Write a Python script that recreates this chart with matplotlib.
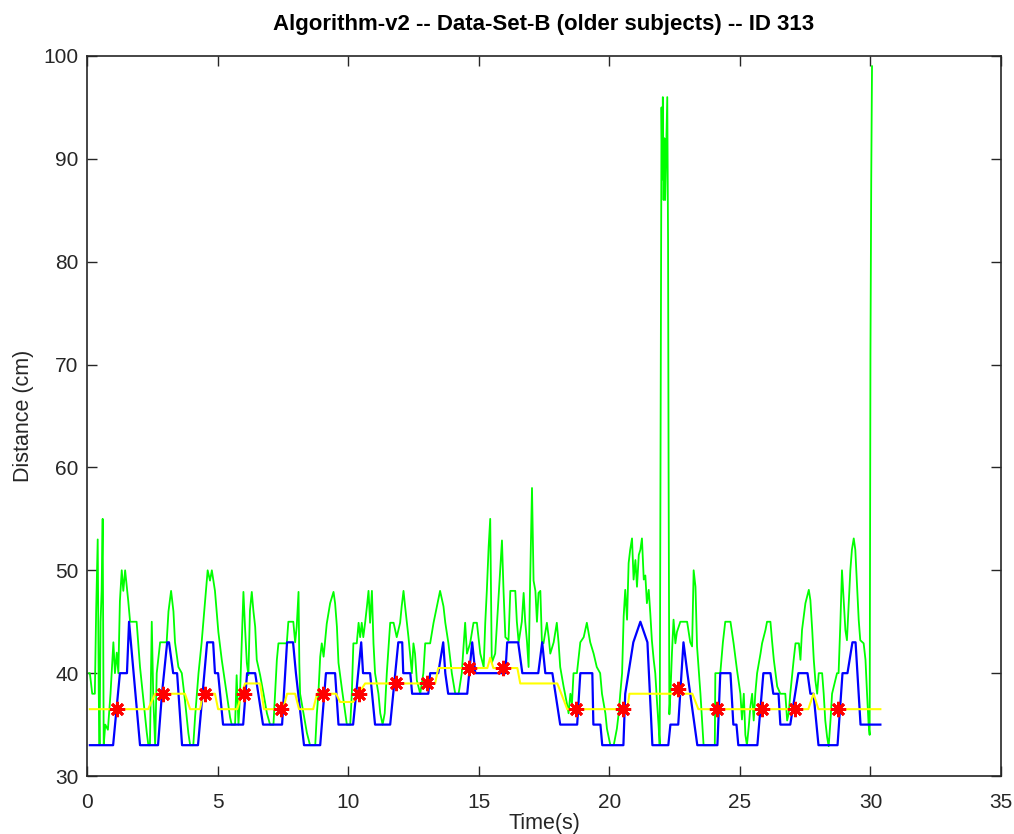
import numpy as np
import matplotlib
matplotlib.use("Agg")
import matplotlib.pyplot as plt

# green: raw distance trace
green_t = [0.08, 0.11, 0.2, 0.3, 0.35, 0.41, 0.45, 0.48, 0.52, 0.56, 0.6, 0.64, 0.7, 0.8, 0.9,
           1.01, 1.07, 1.14, 1.2, 1.26, 1.33, 1.39, 1.46, 1.52, 1.58, 1.65, 1.9, 2.03, 2.16, 2.29,
           2.35, 2.41, 2.48, 2.54, 2.61, 2.67, 2.8, 3.05, 3.12, 3.22, 3.31, 3.37, 3.5, 3.63, 3.75,
           3.88, 3.95, 4.07, 4.14, 4.27, 4.39, 4.52, 4.62, 4.71, 4.78, 4.9, 5.03,
           5.16, 5.35, 5.48, 5.54, 5.67, 5.73, 5.80, 5.86, 5.99, 6.05, 6.12, 6.18, 6.24, 6.31,
           6.37, 6.44, 6.50, 6.63, 6.76, 6.89, 7.01, 7.14, 7.20, 7.27, 7.33, 7.65, 7.71, 7.90,
           7.97, 8.03, 8.10, 8.13, 8.16, 8.29, 8.42, 8.54, 8.74, 8.80, 8.86, 8.93, 8.99, 9.06,
           9.18, 9.31, 9.44, 9.50, 9.57, 9.63, 9.76, 9.89, 9.95, 10.08, 10.14, 10.20, 10.33,
           10.40, 10.46, 10.52, 10.58, 10.65, 10.72, 10.78, 10.84, 10.91, 10.97, 11.03, 11.16,
           11.23, 11.32, 11.40, 11.48, 11.61, 11.74, 11.86, 11.99, 12.05, 12.12, 12.18, 12.25,
           12.31, 12.37, 12.44, 12.50, 12.56, 12.63, 12.76, 12.88, 12.95, 13.14, 13.27, 13.40,
           13.52, 13.65, 13.72, 13.84, 13.97, 14.10, 14.23, 14.35, 14.48, 14.55, 14.67, 14.80,
           14.93, 15.06, 15.19, 15.25, 15.31, 15.38, 15.44, 15.50, 15.63, 15.70, 15.82, 15.89,
           15.95, 16.02, 16.14, 16.21, 16.40, 16.46, 16.53, 16.65, 16.72, 16.78, 16.85, 16.91,
           16.97, 17.04, 17.10, 17.17, 17.23, 17.29, 17.36, 17.42, 17.48, 17.61, 17.68, 17.74,
           17.87, 17.99, 18.06, 18.12, 18.25, 18.38, 18.44, 18.51, 18.57, 18.63, 18.76, 18.89,
           19.02, 19.14, 19.27, 19.40, 19.52, 19.65, 19.72, 19.85, 19.91, 20.04, 20.17, 20.29,
           20.36, 20.42, 20.49, 20.55, 20.61, 20.68, 20.74, 20.80, 20.87, 20.93, 21.00, 21.06,
           21.13, 21.19, 21.25, 21.32, 21.38, 21.44, 21.51, 21.57, 21.63, 21.70, 21.76, 21.83,
           21.89, 21.93, 21.97, 22.00, 22.03, 22.05, 22.08, 22.11, 22.14, 22.18, 22.22, 22.25,
           22.27, 22.30, 22.34, 22.40, 22.46, 22.53, 22.59, 22.72, 22.98, 23.10, 23.17, 23.23,
           23.30, 23.36, 23.49, 23.55, 23.61, 23.99, 24.04, 24.06, 24.25, 24.35, 24.44, 24.64,
           24.76, 24.89, 25.02, 25.08, 25.15, 25.21, 25.27, 25.34, 25.40, 25.47, 25.53, 25.59,
           25.66, 25.79, 25.85, 25.98, 26.04, 26.17, 26.23, 26.30, 26.43, 26.55, 26.74, 26.81,
           26.87, 26.93, 27.06, 27.13, 27.26, 27.32, 27.38, 27.51, 27.64, 27.70, 27.77, 27.83,
           27.89, 27.96, 28.02, 28.15, 28.21, 28.27, 28.34, 28.40, 28.47, 28.53, 28.72, 28.78,
           28.85, 28.91, 28.98, 29.04, 29.10, 29.17, 29.23, 29.29, 29.36, 29.42, 29.49, 29.55,
           29.61, 29.74, 29.81, 29.87, 29.93, 29.97, 30.00, 30.03, 30.06]
green_v = [40, 40, 38, 38, 46, 53, 38, 33, 45, 48, 55, 33, 35, 34.5, 38,
           43, 40, 42, 40, 47, 50, 48, 50, 48.5, 47, 45, 45, 40.6, 37.4, 34.2,
           33, 33, 45, 37.4, 33, 40, 43, 43, 46, 48, 46, 43, 40.6, 40, 37.4,
           34.2, 33, 33, 35.8, 40, 43, 47, 50, 49, 50, 48, 44,
           41.3, 38, 35.7, 35, 35, 39.8, 35, 38, 47.9, 44.5, 41, 39.8, 46.1, 47.9,
           46.1, 44.5, 41.3, 39.8, 38, 36.1, 35, 35, 38, 41.3, 42.9, 42.9, 45, 45,
           43, 44.5, 47.9, 41, 38, 36.1, 34.2, 33, 33, 36, 38, 41.6, 42.9, 41.6,
           44.8, 46.8, 47.9, 46.8, 44.5, 41, 38.5, 36.1, 35, 35, 38, 42.9, 42.9,
           44.9, 43.5, 44.9, 43.5, 44.9, 46.5, 48, 44.9, 48, 42.9, 40, 38,
           36.1, 35, 36.1, 40, 44.9, 44.9, 43.5, 44.9, 46.5, 48, 46.5, 44.9,
           43.5, 41.9, 40, 42.9, 41.9, 39.3, 38, 40, 42.9, 42.9, 44.9, 46.5,
           48, 46.5, 44.9, 42.9, 40, 38, 38, 40, 44.9, 41.9, 42.9, 44.9,
           44.9, 41.9, 40.6, 44.9, 48, 52.3, 55, 41, 41.9, 44.9, 50, 52.9,
           48, 43.5, 43.2, 48, 48, 45, 43, 45, 47.8, 45, 43, 40.6,
           49, 58, 49, 48, 45, 47.8, 48, 43, 42.9, 44.9, 43.5, 41.9,
           43, 44.9, 42.9, 40.6, 38.7, 37, 36.1, 38, 37, 40, 40, 43,
           43.5, 44.9, 43, 41.9, 40.6, 40, 38, 36.1, 34.6, 33, 33, 34.6,
           36.1, 38, 40, 45.5, 48.1, 45.2, 50.7, 52, 53.1, 49.1, 51, 48.4,
           51.5, 52, 53.1, 49.1, 49.5, 46.8, 48.1, 45.8, 43.2, 41.3, 40, 37.1,
           34.8, 33, 70, 95, 88, 96, 86, 92, 86, 91, 96, 82,
           60, 36, 38, 42, 45.2, 42.9, 44, 45, 45, 43, 42.6, 50,
           48.4, 42.6, 38, 35.5, 33, 33, 33, 40, 40, 43, 45, 45,
           42.9, 40.3, 38, 35.5, 38, 34, 33, 34.8, 36.7, 38, 35.4, 38,
           40, 41.9, 42.9, 44.2, 45, 45, 43.2, 41.3, 38.7, 38, 38, 35.4,
           36.1, 38, 41.3, 42.9, 42.9, 41.3, 44.2, 46.8, 48.1, 47.1, 44.2, 41.3,
           39.3, 38, 40, 40, 38, 35.4, 33.8, 32.9, 35.4, 38, 40, 40,
           45, 50, 46.8, 44.2, 43.2, 46.8, 50, 52, 53.1, 52, 48.4, 45.2,
           43.2, 42.9, 41.3, 38, 35, 34, 71, 88, 99]

# blue: filtered distance
blue_t = [0.11, 1.0, 1.26, 1.53, 1.61, 2.03, 2.72, 2.87, 3.07, 3.14, 3.3, 3.45, 3.64, 4.25,
          4.6, 4.83, 4.9, 5.02, 5.21, 5.98, 6.13, 6.44, 6.74, 7.47, 7.66, 7.89, 8.0, 8.31,
          8.93, 9.15, 9.5, 9.63, 10.19, 10.5, 10.57, 10.84, 11.03, 11.61, 11.92, 12.07, 12.11,
          12.38, 12.45, 13.07, 13.14, 13.45, 13.64, 13.72, 13.83, 14.56, 14.75, 14.87, 16.02,
          16.09, 16.51, 16.67, 17.28, 17.43, 17.55, 17.82, 18.12, 18.77, 18.89, 19.35, 19.39,
          19.66, 19.73, 20.54, 20.61, 20.92, 21.19, 21.46, 21.65, 22.26, 22.34, 22.64, 22.84,
          22.99, 23.37, 24.14, 24.25, 24.64, 24.75, 24.87, 24.94, 25.67, 25.9, 26.17, 26.28,
          26.48, 26.55, 26.93, 27.24, 27.59, 27.7, 27.82, 28.01, 28.74, 28.93, 29.12, 29.31,
          29.43, 29.62, 30.38]
blue_v = [33, 33, 40, 40, 45, 33, 33, 38, 43, 43, 40, 40, 33, 33,
          43, 43, 40, 40, 35, 35, 40, 40, 35, 35, 43, 43, 40, 33,
          33, 40, 40, 35, 35, 43, 40, 40, 35, 35, 43, 43, 40,
          40, 38, 38, 40, 40, 43, 40, 38, 38, 43, 40, 40,
          43, 43, 40, 40, 43, 40, 40, 35, 35, 40, 40, 35,
          35, 33, 33, 38, 43, 45, 43, 33, 33, 35, 35, 43,
          40, 33, 33, 40, 40, 35, 35, 33, 33, 40, 40, 38,
          38, 35, 35, 40, 40, 38, 38, 33, 33, 40, 40, 43,
          43, 35, 35]

# yellow: running baseline
yellow_t = [0.11, 2.34, 2.61, 3.75, 3.95, 4.33, 4.44, 4.9, 5.02, 5.75, 6.05, 6.63, 6.78, 7.51,
            7.66, 7.97, 8.12, 8.66, 8.81, 9.54, 9.69, 10.19, 10.65, 13.33, 13.45, 15.33, 15.44,
            15.56, 16.48, 16.59, 18.01, 18.39, 20.69, 20.77, 23.18, 23.41, 27.62, 27.82, 28.01,
            30.38]
yellow_v = [36.5, 36.5, 38, 38, 36.5, 36.5, 38, 38, 36.5, 36.5, 39, 39, 36.5, 36.5,
            38, 38, 36.5, 36.5, 38, 38, 37.2, 37.2, 39, 39, 40.5, 40.5, 41.5,
            40.5, 40.5, 39, 39, 36.5, 36.5, 38, 38, 36.5, 36.5, 38, 36.5,
            36.5]

# red stars: detected events
star_t = [1.15, 2.9, 4.52, 6.0, 7.43, 9.04, 10.42, 11.84, 13.03, 14.64, 15.94, 18.74, 20.54,
          22.64, 24.14, 25.86, 27.13, 28.74]
star_v = [36.5, 38, 38, 38, 36.5, 38, 38, 39, 39, 40.5, 40.5, 36.5, 36.5,
          38.5, 36.5, 36.5, 36.5, 36.5]

plt.rcParams['font.family'] = ['Liberation Sans', 'DejaVu Sans']
dark = '#262626'

fig = plt.figure(figsize=(10.14, 8.34), dpi=100)
ax = fig.add_axes([0.0858, 0.0695, 0.9014, 0.8634])

ax.plot(green_t, green_v, color='#00ff00', lw=1.3)
ax.plot(blue_t, blue_v, color='#0000ff', lw=1.6)
ax.plot(yellow_t, yellow_v, color='#ffff00', lw=1.5)
ax.plot(star_t, star_v, linestyle='none', marker=(8, 2, 0), markersize=11,
        markeredgewidth=2, color='#ff0000')

ax.set_xlim(0, 35)
ax.set_ylim(30, 100)
ax.set_xticks(range(0, 36, 5))
ax.set_yticks(range(30, 101, 10))
ax.tick_params(direction='in', length=7, width=1, top=True, right=True,
               labelsize=15, colors=dark, pad=6)
ax.tick_params(axis='x', pad=12)
for s in ax.spines.values():
    s.set_color(dark)
    s.set_linewidth(1.2)

ax.set_xlabel('Time(s)', fontsize=15.5, color=dark, labelpad=1)
ax.set_ylabel('Distance (cm)', fontsize=15.5, color=dark, labelpad=7)
ax.set_title('Algorithm-v2 -- Data-Set-B (older subjects) -- ID 313', fontsize=16,
             fontweight='bold', color='black', pad=19)

fig.savefig('out.png', dpi=100)
